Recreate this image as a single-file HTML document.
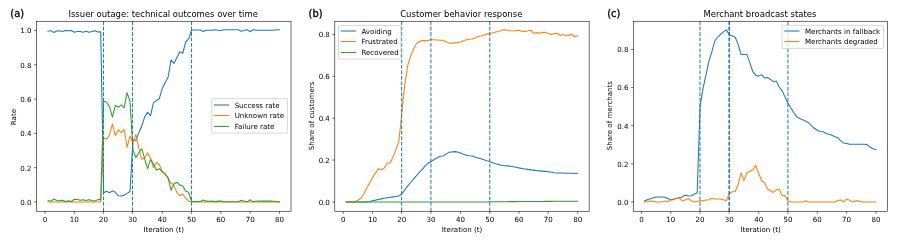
<!DOCTYPE html>
<html><head><meta charset="utf-8"><title>Outage simulation figure</title>
<style>html,body{margin:0;padding:0;background:#fff}svg{display:block}</style>
</head><body>
<svg width="897" height="243" viewBox="0 0 897 243" font-family="'DejaVu Sans', 'Liberation Sans', sans-serif" fill="#000">
<rect width="897" height="243" fill="#fff"/>
<g>
<polyline points="47.98,31.44 50.91,30.58 53.84,32.56 56.77,31.08 59.70,30.82 62.63,31.44 65.56,30.43 68.49,30.70 71.42,30.43 74.35,32.32 77.28,31.56 80.21,31.56 83.14,32.32 86.07,31.20 89.00,32.32 91.93,31.44 94.86,30.70 97.79,32.06 100.72,31.70 103.65,192.74 106.58,191.19 109.51,192.74 112.44,190.85 115.37,192.22 118.30,195.82 121.23,196.00 124.16,195.31 127.09,193.42 130.02,191.53 132.95,139.89 135.88,140.58 138.81,132.86 141.74,125.99 144.67,116.90 147.60,112.27 150.53,115.70 153.46,102.83 156.39,100.43 159.32,98.71 162.25,88.42 165.18,82.76 168.11,77.27 171.04,59.94 173.97,63.54 176.90,57.54 179.83,51.70 182.76,53.25 185.69,41.75 188.62,39.18 191.55,30.00 194.48,30.00 197.41,30.00 200.34,30.00 203.27,31.55 206.20,30.34 209.13,30.17 212.06,30.34 214.99,29.66 217.92,30.34 220.85,30.52 223.78,29.66 226.71,29.66 229.64,29.66 232.57,29.66 235.50,29.66 238.43,29.66 241.36,31.20 244.29,30.17 247.22,29.66 250.15,31.72 253.08,29.66 256.01,30.17 258.94,30.34 261.87,30.34 264.80,30.34 267.73,30.34 270.66,30.34 273.59,30.17 276.52,29.66 279.45,29.66" fill="none" stroke="#1f77b4" stroke-width="1.06" stroke-linejoin="round" stroke-linecap="square"/>
<polyline points="47.98,202.00 50.91,202.00 53.84,202.00 56.77,202.00 59.70,202.00 62.63,202.00 65.56,202.00 68.49,202.00 71.42,202.00 74.35,202.00 77.28,202.00 80.21,202.00 83.14,202.00 86.07,202.00 89.00,202.00 91.93,202.00 94.86,202.00 97.79,202.00 100.72,202.00 103.65,138.00 106.58,139.21 109.51,134.92 112.44,123.94 115.37,135.60 118.30,129.94 121.23,132.51 124.16,129.43 127.09,147.27 130.02,136.12 132.95,142.98 135.88,134.40 138.81,148.47 141.74,159.45 144.67,157.73 147.60,152.76 150.53,158.25 153.46,167.69 156.39,162.54 159.32,164.43 162.25,171.29 165.18,174.38 168.11,178.32 171.04,182.96 173.97,185.36 176.90,192.74 179.83,195.82 182.76,193.94 185.69,198.23 188.62,201.31 191.55,202.00 194.48,202.00 197.41,202.00 200.34,202.00 203.27,202.00 206.20,202.00 209.13,202.00 212.06,202.00 214.99,202.00 217.92,202.00 220.85,202.00 223.78,202.00 226.71,202.00 229.64,202.00 232.57,202.00 235.50,202.00 238.43,202.00 241.36,202.00 244.29,202.00 247.22,202.00 250.15,202.00 253.08,202.00 256.01,202.00 258.94,202.00 261.87,202.00 264.80,202.00 267.73,202.00 270.66,202.00 273.59,202.00 276.52,202.00 279.45,202.00" fill="none" stroke="#ff7f0e" stroke-width="1.06" stroke-linejoin="round" stroke-linecap="square"/>
<polyline points="47.98,200.15 50.91,201.38 53.84,199.03 56.77,200.52 59.70,200.88 62.63,200.15 65.56,201.50 68.49,200.88 71.42,201.50 74.35,199.29 77.28,199.53 80.21,200.15 83.14,199.65 86.07,200.52 89.00,199.65 91.93,200.52 94.86,201.14 97.79,199.65 100.72,199.65 103.65,101.12 106.58,102.32 109.51,106.61 112.44,117.07 115.37,105.41 118.30,107.29 121.23,104.89 124.16,107.81 127.09,92.54 130.02,101.63 132.95,149.84 135.88,157.73 138.81,152.76 141.74,148.47 144.67,158.94 147.60,168.72 150.53,159.45 153.46,163.91 156.39,170.09 159.32,168.72 162.25,171.80 165.18,173.69 168.11,177.81 171.04,190.33 173.97,183.81 176.90,182.27 179.83,185.01 182.76,186.04 185.69,191.19 188.62,192.22 191.55,201.49 194.48,201.49 197.41,201.49 200.34,201.49 203.27,199.94 206.20,201.14 209.13,201.31 212.06,201.14 214.99,201.83 217.92,201.14 220.85,200.97 223.78,201.83 226.71,201.83 229.64,201.83 232.57,201.83 235.50,201.83 238.43,201.83 241.36,200.28 244.29,201.31 247.22,201.83 250.15,199.77 253.08,201.83 256.01,201.31 258.94,201.14 261.87,201.14 264.80,201.14 267.73,201.14 270.66,201.14 273.59,201.31 276.52,201.83 279.45,201.83" fill="none" stroke="#2ca02c" stroke-width="1.06" stroke-linejoin="round" stroke-linecap="square"/>
<line x1="103.50" y1="211.25" x2="103.50" y2="21.25" stroke="#1f77b4" stroke-opacity="0.95" stroke-width="1.06" stroke-dasharray="3.8,1.68"/>
<line x1="132.50" y1="211.25" x2="132.50" y2="21.25" stroke="#1f77b4" stroke-opacity="0.95" stroke-width="1.06" stroke-dasharray="3.8,1.68"/>
<line x1="191.50" y1="211.25" x2="191.50" y2="21.25" stroke="#1f77b4" stroke-opacity="0.95" stroke-width="1.06" stroke-dasharray="3.8,1.68"/>
<rect x="36.5" y="21.25" width="254.50" height="190.0" fill="none" stroke="#000" stroke-width="0.566"/>
<line x1="45.05" y1="211.25" x2="45.05" y2="213.72" stroke="#000" stroke-width="0.566"/>
<text x="45.05" y="221.5" font-size="7.07" text-anchor="middle">0</text>
<line x1="74.35" y1="211.25" x2="74.35" y2="213.72" stroke="#000" stroke-width="0.566"/>
<text x="74.35" y="221.5" font-size="7.07" text-anchor="middle">10</text>
<line x1="103.50" y1="211.25" x2="103.50" y2="213.72" stroke="#000" stroke-width="0.566"/>
<text x="103.50" y="221.5" font-size="7.07" text-anchor="middle">20</text>
<line x1="132.50" y1="211.25" x2="132.50" y2="213.72" stroke="#000" stroke-width="0.566"/>
<text x="132.50" y="221.5" font-size="7.07" text-anchor="middle">30</text>
<line x1="162.25" y1="211.25" x2="162.25" y2="213.72" stroke="#000" stroke-width="0.566"/>
<text x="162.25" y="221.5" font-size="7.07" text-anchor="middle">40</text>
<line x1="191.50" y1="211.25" x2="191.50" y2="213.72" stroke="#000" stroke-width="0.566"/>
<text x="191.50" y="221.5" font-size="7.07" text-anchor="middle">50</text>
<line x1="220.85" y1="211.25" x2="220.85" y2="213.72" stroke="#000" stroke-width="0.566"/>
<text x="220.85" y="221.5" font-size="7.07" text-anchor="middle">60</text>
<line x1="250.15" y1="211.25" x2="250.15" y2="213.72" stroke="#000" stroke-width="0.566"/>
<text x="250.15" y="221.5" font-size="7.07" text-anchor="middle">70</text>
<line x1="279.45" y1="211.25" x2="279.45" y2="213.72" stroke="#000" stroke-width="0.566"/>
<text x="279.45" y="221.5" font-size="7.07" text-anchor="middle">80</text>
<line x1="34.03" y1="202.00" x2="36.5" y2="202.00" stroke="#000" stroke-width="0.566"/>
<text x="31.56" y="204.85" font-size="7.07" text-anchor="end">0.0</text>
<line x1="34.03" y1="167.69" x2="36.5" y2="167.69" stroke="#000" stroke-width="0.566"/>
<text x="31.56" y="170.54" font-size="7.07" text-anchor="end">0.2</text>
<line x1="34.03" y1="133.37" x2="36.5" y2="133.37" stroke="#000" stroke-width="0.566"/>
<text x="31.56" y="136.22" font-size="7.07" text-anchor="end">0.4</text>
<line x1="34.03" y1="99.06" x2="36.5" y2="99.06" stroke="#000" stroke-width="0.566"/>
<text x="31.56" y="101.91" font-size="7.07" text-anchor="end">0.6</text>
<line x1="34.03" y1="64.74" x2="36.5" y2="64.74" stroke="#000" stroke-width="0.566"/>
<text x="31.56" y="67.59" font-size="7.07" text-anchor="end">0.8</text>
<line x1="34.03" y1="30.43" x2="36.5" y2="30.43" stroke="#000" stroke-width="0.566"/>
<text x="31.56" y="33.28" font-size="7.07" text-anchor="end">1.0</text>
<text x="163.75" y="231.9" font-size="7.07" text-anchor="middle">Iteration (t)</text>
<text transform="translate(15.90,117.05) rotate(-90)" font-size="7.07" text-anchor="middle">Rate</text>
<text x="163.15" y="16.8" font-size="8.48" text-anchor="middle">Issuer outage: technical outcomes over time</text>
<text x="10.30" y="17.1" font-size="9.9" stroke="#000" stroke-width="0.3">(a)</text>
<rect x="211.7" y="98.7" width="75.7" height="34.4" rx="0.9" fill="#fff" fill-opacity="0.8" stroke="#c8c8c8" stroke-opacity="0.9" stroke-width="0.8"/>
<line x1="214.50" y1="105.00" x2="228.64" y2="105.00" stroke="#1f77b4" stroke-width="1.06" stroke-linecap="square"/>
<text x="234.64" y="107.70" font-size="7.07">Success rate</text>
<line x1="214.50" y1="115.50" x2="228.64" y2="115.50" stroke="#ff7f0e" stroke-width="1.06" stroke-linecap="square"/>
<text x="234.64" y="118.20" font-size="7.07">Unknown rate</text>
<line x1="214.50" y1="126.40" x2="228.64" y2="126.40" stroke="#2ca02c" stroke-width="1.06" stroke-linecap="square"/>
<text x="234.64" y="129.10" font-size="7.07">Failure rate</text>
</g>
<g>
<polyline points="346.18,202.00 349.11,202.00 352.04,202.00 354.97,202.00 357.90,202.00 360.83,202.00 363.76,202.00 366.69,201.90 369.62,201.58 372.55,200.74 375.48,200.11 378.41,199.40 381.34,198.86 384.27,198.29 387.20,197.81 390.13,197.31 393.06,196.87 395.99,196.41 398.92,196.01 401.85,194.04 404.78,189.85 407.71,185.87 410.64,182.52 413.57,179.16 416.50,175.60 419.43,172.25 422.36,169.32 425.29,165.55 428.22,163.03 431.15,161.57 434.08,159.47 437.01,158.00 439.94,156.33 442.87,155.91 445.80,154.32 448.73,152.35 451.66,151.93 454.59,151.62 457.52,151.93 460.45,153.08 463.38,154.32 466.31,155.28 469.24,155.81 472.17,156.01 475.10,157.29 478.03,158.00 480.96,158.84 483.89,159.74 486.82,160.73 489.75,161.48 492.68,162.72 495.61,163.66 498.54,164.44 501.47,165.19 504.40,165.69 507.33,165.90 510.26,166.18 513.19,166.68 516.12,167.16 519.05,167.89 521.98,168.40 524.91,168.90 527.84,169.38 530.77,169.88 533.70,170.11 536.63,170.62 539.56,170.87 542.49,171.10 545.42,171.37 548.35,171.83 551.28,172.33 554.21,172.84 557.14,173.09 560.07,173.09 563.00,173.09 565.93,173.30 568.86,173.30 571.79,173.30 574.72,173.51 577.65,173.30" fill="none" stroke="#1f77b4" stroke-width="1.06" stroke-linejoin="round" stroke-linecap="square"/>
<polyline points="346.18,202.00 349.11,202.00 352.04,202.00 354.97,201.79 357.90,200.32 360.83,198.44 363.76,194.25 366.69,187.96 369.62,183.15 372.55,177.49 375.48,173.09 378.41,168.69 381.34,169.74 384.27,168.06 387.20,163.03 390.13,163.03 393.06,156.96 395.99,149.62 398.92,141.25 401.85,112.54 404.78,84.68 407.71,65.62 410.64,55.98 413.57,49.27 416.50,43.62 419.43,41.73 422.36,40.27 425.29,40.89 428.22,40.27 431.15,39.81 434.08,39.81 437.01,40.06 439.94,40.31 442.87,40.31 445.80,41.65 448.73,43.14 451.66,43.26 454.59,42.88 457.52,42.63 460.45,42.00 463.38,40.69 466.31,39.81 469.24,39.20 472.17,38.95 475.10,38.19 478.03,36.35 480.96,35.99 483.89,35.11 486.82,34.13 489.75,33.62 492.68,32.89 495.61,31.91 498.54,31.40 501.47,30.55 504.40,29.58 507.33,30.42 510.26,30.80 513.19,30.92 516.12,30.55 519.05,30.21 521.98,31.17 524.91,31.40 527.84,31.05 530.77,30.21 533.70,33.27 536.63,32.64 539.56,33.27 542.49,32.39 545.42,32.39 548.35,33.39 551.28,34.40 554.21,33.60 557.14,33.27 560.07,35.49 563.00,34.50 565.93,35.49 568.86,35.11 571.79,34.50 574.72,37.00 577.65,35.99" fill="none" stroke="#ff7f0e" stroke-width="1.06" stroke-linejoin="round" stroke-linecap="square"/>
<polyline points="346.18,202.00 349.11,202.00 352.04,202.00 354.97,202.00 357.90,202.00 360.83,202.00 363.76,202.00 366.69,202.00 369.62,202.00 372.55,202.00 375.48,202.00 378.41,202.00 381.34,202.00 384.27,202.00 387.20,202.00 390.13,202.00 393.06,202.00 395.99,202.00 398.92,202.00 401.85,202.00 404.78,202.00 407.71,202.00 410.64,202.00 413.57,202.00 416.50,202.00 419.43,202.00 422.36,202.00 425.29,202.00 428.22,202.00 431.15,202.00 434.08,202.00 437.01,202.00 439.94,202.00 442.87,202.00 445.80,202.00 448.73,202.00 451.66,202.00 454.59,202.00 457.52,202.00 460.45,202.00 463.38,202.00 466.31,202.00 469.24,202.00 472.17,202.00 475.10,202.00 478.03,202.00 480.96,202.00 483.89,202.00 486.82,202.00 489.75,201.79 492.68,201.77 495.61,201.75 498.54,201.73 501.47,201.71 504.40,201.69 507.33,201.66 510.26,201.64 513.19,201.62 516.12,201.60 519.05,201.58 521.98,201.56 524.91,201.54 527.84,201.52 530.77,201.50 533.70,201.48 536.63,201.46 539.56,201.43 542.49,201.41 545.42,201.39 548.35,201.37 551.28,201.35 554.21,201.33 557.14,201.31 560.07,201.29 563.00,201.27 565.93,201.25 568.86,201.22 571.79,201.20 574.72,201.18 577.65,201.16" fill="none" stroke="#2ca02c" stroke-width="1.06" stroke-linejoin="round" stroke-linecap="square"/>
<line x1="401.65" y1="211.25" x2="401.65" y2="21.25" stroke="#1f77b4" stroke-opacity="0.95" stroke-width="1.06" stroke-dasharray="3.8,1.68"/>
<line x1="430.90" y1="211.25" x2="430.90" y2="21.25" stroke="#1f77b4" stroke-opacity="0.95" stroke-width="1.06" stroke-dasharray="3.8,1.68"/>
<line x1="489.75" y1="211.25" x2="489.75" y2="21.25" stroke="#1f77b4" stroke-opacity="0.95" stroke-width="1.06" stroke-dasharray="3.8,1.68"/>
<rect x="334.8" y="21.25" width="254.35" height="190.0" fill="none" stroke="#000" stroke-width="0.566"/>
<line x1="343.25" y1="211.25" x2="343.25" y2="213.72" stroke="#000" stroke-width="0.566"/>
<text x="343.25" y="221.5" font-size="7.07" text-anchor="middle">0</text>
<line x1="372.55" y1="211.25" x2="372.55" y2="213.72" stroke="#000" stroke-width="0.566"/>
<text x="372.55" y="221.5" font-size="7.07" text-anchor="middle">10</text>
<line x1="401.65" y1="211.25" x2="401.65" y2="213.72" stroke="#000" stroke-width="0.566"/>
<text x="401.65" y="221.5" font-size="7.07" text-anchor="middle">20</text>
<line x1="430.90" y1="211.25" x2="430.90" y2="213.72" stroke="#000" stroke-width="0.566"/>
<text x="430.90" y="221.5" font-size="7.07" text-anchor="middle">30</text>
<line x1="460.45" y1="211.25" x2="460.45" y2="213.72" stroke="#000" stroke-width="0.566"/>
<text x="460.45" y="221.5" font-size="7.07" text-anchor="middle">40</text>
<line x1="489.75" y1="211.25" x2="489.75" y2="213.72" stroke="#000" stroke-width="0.566"/>
<text x="489.75" y="221.5" font-size="7.07" text-anchor="middle">50</text>
<line x1="519.05" y1="211.25" x2="519.05" y2="213.72" stroke="#000" stroke-width="0.566"/>
<text x="519.05" y="221.5" font-size="7.07" text-anchor="middle">60</text>
<line x1="548.35" y1="211.25" x2="548.35" y2="213.72" stroke="#000" stroke-width="0.566"/>
<text x="548.35" y="221.5" font-size="7.07" text-anchor="middle">70</text>
<line x1="577.65" y1="211.25" x2="577.65" y2="213.72" stroke="#000" stroke-width="0.566"/>
<text x="577.65" y="221.5" font-size="7.07" text-anchor="middle">80</text>
<line x1="332.33" y1="202.00" x2="334.8" y2="202.00" stroke="#000" stroke-width="0.566"/>
<text x="329.86" y="204.85" font-size="7.07" text-anchor="end">0.0</text>
<line x1="332.33" y1="160.10" x2="334.8" y2="160.10" stroke="#000" stroke-width="0.566"/>
<text x="329.86" y="162.95" font-size="7.07" text-anchor="end">0.2</text>
<line x1="332.33" y1="118.20" x2="334.8" y2="118.20" stroke="#000" stroke-width="0.566"/>
<text x="329.86" y="121.05" font-size="7.07" text-anchor="end">0.4</text>
<line x1="332.33" y1="76.30" x2="334.8" y2="76.30" stroke="#000" stroke-width="0.566"/>
<text x="329.86" y="79.15" font-size="7.07" text-anchor="end">0.6</text>
<line x1="332.33" y1="34.40" x2="334.8" y2="34.40" stroke="#000" stroke-width="0.566"/>
<text x="329.86" y="37.25" font-size="7.07" text-anchor="end">0.8</text>
<text x="461.98" y="231.9" font-size="7.07" text-anchor="middle">Iteration (t)</text>
<text transform="translate(313.50,115.95) rotate(-90)" font-size="7.07" text-anchor="middle">Share of customers</text>
<text x="461.28" y="16.8" font-size="8.48" text-anchor="middle">Customer behavior response</text>
<text x="308.60" y="17.1" font-size="9.9" stroke="#000" stroke-width="0.3">(b)</text>
<rect x="338.5" y="25.5" width="62.4" height="33.6" rx="0.9" fill="#fff" fill-opacity="0.8" stroke="#c8c8c8" stroke-opacity="0.9" stroke-width="0.8"/>
<line x1="341.30" y1="31.00" x2="355.44" y2="31.00" stroke="#1f77b4" stroke-width="1.06" stroke-linecap="square"/>
<text x="361.44" y="33.70" font-size="7.07">Avoiding</text>
<line x1="341.30" y1="41.55" x2="355.44" y2="41.55" stroke="#ff7f0e" stroke-width="1.06" stroke-linecap="square"/>
<text x="361.44" y="44.25" font-size="7.07">Frustrated</text>
<line x1="341.30" y1="52.50" x2="355.44" y2="52.50" stroke="#2ca02c" stroke-width="1.06" stroke-linecap="square"/>
<text x="361.44" y="55.20" font-size="7.07">Recovered</text>
</g>
<g>
<polyline points="644.43,201.05 647.36,199.75 650.29,198.76 653.22,197.65 656.15,197.04 659.08,196.91 662.01,196.91 664.94,197.29 667.87,198.51 670.80,199.75 673.73,199.14 676.66,198.19 679.59,197.90 682.52,196.66 685.45,195.06 688.38,196.05 691.31,195.80 694.24,194.18 697.17,192.71 700.10,106.08 703.03,88.34 705.96,75.18 708.89,61.07 711.82,51.92 714.75,41.05 717.68,37.24 720.61,34.37 723.54,31.61 726.47,29.87 729.40,34.76 732.33,36.09 735.26,37.24 738.19,44.67 741.12,54.59 744.05,54.59 746.98,54.59 749.91,63.17 752.84,71.56 755.77,75.18 758.70,76.14 761.63,74.61 764.56,78.05 767.49,77.47 770.42,79.38 773.35,81.67 776.28,81.10 779.21,87.01 782.14,90.82 785.07,97.11 788.00,103.31 790.93,108.27 793.86,112.75 796.79,116.57 799.72,118.47 802.65,119.62 805.58,121.33 808.51,122.67 811.44,125.64 814.37,128.29 817.30,130.30 820.23,131.44 823.16,131.73 826.09,133.46 829.02,134.21 831.95,135.20 834.88,136.67 837.81,137.66 840.74,140.88 843.67,143.07 846.60,143.59 849.53,144.31 852.46,144.31 855.39,144.31 858.32,144.31 861.25,144.31 864.18,144.31 867.11,144.60 870.04,147.08 872.97,148.79 875.90,149.56" fill="none" stroke="#1f77b4" stroke-width="1.06" stroke-linejoin="round" stroke-linecap="square"/>
<polyline points="644.43,202.00 647.36,201.62 650.29,201.05 653.22,201.24 656.15,202.00 659.08,202.00 662.01,202.00 664.94,201.05 667.87,201.62 670.80,200.00 673.73,199.75 676.66,198.28 679.59,198.28 682.52,201.05 685.45,199.75 688.38,198.51 691.31,200.86 694.24,202.00 697.17,201.24 700.10,200.86 703.03,200.67 705.96,200.00 708.89,199.75 711.82,198.28 714.75,198.95 717.68,198.95 720.61,198.95 723.54,199.75 726.47,200.67 729.40,193.42 732.33,191.70 735.26,191.51 738.19,184.46 741.12,172.82 744.05,180.64 746.98,172.82 749.91,171.24 752.84,169.77 755.77,165.39 758.70,173.45 761.63,180.70 764.56,182.80 767.49,188.96 770.42,190.81 773.35,192.47 776.28,189.80 779.21,188.96 782.14,195.75 785.07,195.52 788.00,201.29 790.93,202.00 793.86,202.00 796.79,202.00 799.72,202.00 802.65,202.00 805.58,200.76 808.51,202.00 811.44,202.00 814.37,202.00 817.30,202.00 820.23,202.00 823.16,202.00 826.09,202.00 829.02,202.00 831.95,202.00 834.88,202.00 837.81,200.51 840.74,199.90 843.67,202.00 846.60,199.04 849.53,200.15 852.46,202.00 855.39,200.89 858.32,200.89 861.25,202.00 864.18,202.00 867.11,202.00 870.04,202.00 872.97,202.00 875.90,202.00" fill="none" stroke="#ff7f0e" stroke-width="1.06" stroke-linejoin="round" stroke-linecap="square"/>
<line x1="700.00" y1="211.25" x2="700.00" y2="21.25" stroke="#1f77b4" stroke-opacity="0.95" stroke-width="1.06" stroke-dasharray="3.8,1.68"/>
<line x1="728.95" y1="211.25" x2="728.95" y2="21.25" stroke="#1f77b4" stroke-opacity="0.95" stroke-width="1.06" stroke-dasharray="3.8,1.68"/>
<line x1="729.50" y1="211.25" x2="729.50" y2="21.25" stroke="#1f77b4" stroke-opacity="0.95" stroke-width="1.06" stroke-dasharray="3.8,1.68"/>
<line x1="787.90" y1="211.25" x2="787.90" y2="21.25" stroke="#1f77b4" stroke-opacity="0.95" stroke-width="1.06" stroke-dasharray="3.8,1.68"/>
<rect x="633.4" y="21.25" width="254.30" height="190.0" fill="none" stroke="#000" stroke-width="0.566"/>
<line x1="641.50" y1="211.25" x2="641.50" y2="213.72" stroke="#000" stroke-width="0.566"/>
<text x="641.50" y="221.5" font-size="7.07" text-anchor="middle">0</text>
<line x1="670.80" y1="211.25" x2="670.80" y2="213.72" stroke="#000" stroke-width="0.566"/>
<text x="670.80" y="221.5" font-size="7.07" text-anchor="middle">10</text>
<line x1="700.00" y1="211.25" x2="700.00" y2="213.72" stroke="#000" stroke-width="0.566"/>
<text x="700.00" y="221.5" font-size="7.07" text-anchor="middle">20</text>
<line x1="729.20" y1="211.25" x2="729.20" y2="213.72" stroke="#000" stroke-width="0.566"/>
<text x="729.20" y="221.5" font-size="7.07" text-anchor="middle">30</text>
<line x1="758.70" y1="211.25" x2="758.70" y2="213.72" stroke="#000" stroke-width="0.566"/>
<text x="758.70" y="221.5" font-size="7.07" text-anchor="middle">40</text>
<line x1="787.90" y1="211.25" x2="787.90" y2="213.72" stroke="#000" stroke-width="0.566"/>
<text x="787.90" y="221.5" font-size="7.07" text-anchor="middle">50</text>
<line x1="817.30" y1="211.25" x2="817.30" y2="213.72" stroke="#000" stroke-width="0.566"/>
<text x="817.30" y="221.5" font-size="7.07" text-anchor="middle">60</text>
<line x1="846.60" y1="211.25" x2="846.60" y2="213.72" stroke="#000" stroke-width="0.566"/>
<text x="846.60" y="221.5" font-size="7.07" text-anchor="middle">70</text>
<line x1="875.90" y1="211.25" x2="875.90" y2="213.72" stroke="#000" stroke-width="0.566"/>
<text x="875.90" y="221.5" font-size="7.07" text-anchor="middle">80</text>
<line x1="630.93" y1="202.00" x2="633.4" y2="202.00" stroke="#000" stroke-width="0.566"/>
<text x="628.46" y="204.85" font-size="7.07" text-anchor="end">0.0</text>
<line x1="630.93" y1="163.86" x2="633.4" y2="163.86" stroke="#000" stroke-width="0.566"/>
<text x="628.46" y="166.71" font-size="7.07" text-anchor="end">0.2</text>
<line x1="630.93" y1="125.72" x2="633.4" y2="125.72" stroke="#000" stroke-width="0.566"/>
<text x="628.46" y="128.57" font-size="7.07" text-anchor="end">0.4</text>
<line x1="630.93" y1="87.58" x2="633.4" y2="87.58" stroke="#000" stroke-width="0.566"/>
<text x="628.46" y="90.43" font-size="7.07" text-anchor="end">0.6</text>
<line x1="630.93" y1="49.44" x2="633.4" y2="49.44" stroke="#000" stroke-width="0.566"/>
<text x="628.46" y="52.29" font-size="7.07" text-anchor="end">0.8</text>
<text x="760.55" y="231.9" font-size="7.07" text-anchor="middle">Iteration (t)</text>
<text transform="translate(612.40,115.65) rotate(-90)" font-size="7.07" text-anchor="middle">Share of merchants</text>
<text x="759.95" y="16.8" font-size="8.48" text-anchor="middle">Merchant broadcast states</text>
<text x="607.20" y="17.1" font-size="9.9" stroke="#000" stroke-width="0.3">(c)</text>
<rect x="782.1" y="25.4" width="101.4" height="23.0" rx="0.9" fill="#fff" fill-opacity="0.8" stroke="#c8c8c8" stroke-opacity="0.9" stroke-width="0.8"/>
<line x1="784.80" y1="31.00" x2="798.94" y2="31.00" stroke="#1f77b4" stroke-width="1.06" stroke-linecap="square"/>
<text x="804.94" y="33.70" font-size="7.07">Merchants in fallback</text>
<line x1="784.80" y1="41.45" x2="798.94" y2="41.45" stroke="#ff7f0e" stroke-width="1.06" stroke-linecap="square"/>
<text x="804.94" y="44.15" font-size="7.07">Merchants degraded</text>
</g>
</svg>
</body></html>
